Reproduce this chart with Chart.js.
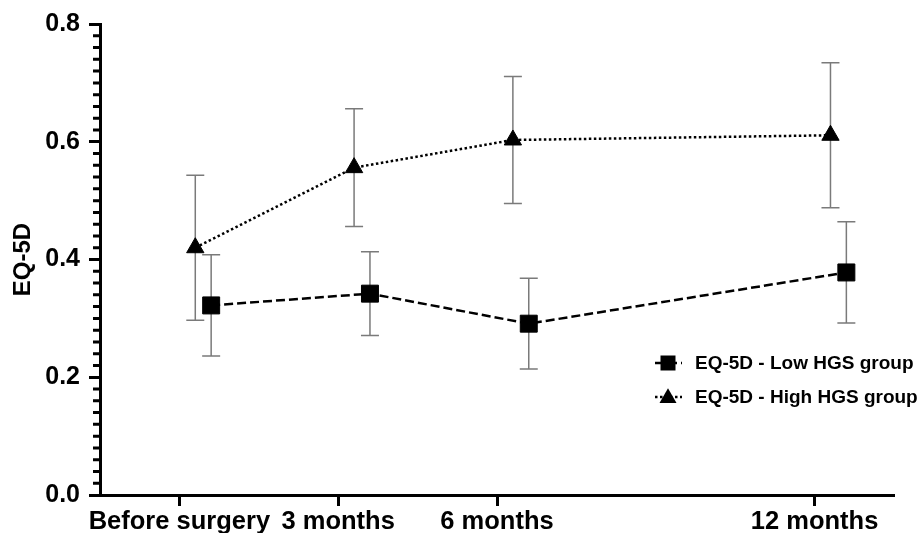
<!DOCTYPE html>
<html><head><meta charset="utf-8">
<script src="https://cdn.jsdelivr.net/npm/chart.js@4.4.1/dist/chart.umd.min.js"></script>
<style>html,body{margin:0;background:#fff}#wrap{width:922px;height:533px;position:relative}</style>
</head><body><div id="wrap"><canvas id="c"></canvas></div>
<script>
'use strict';
const months=[0,3,6,12];
const tickLabels=['Before surgery','3 months','6 months','12 months'];
const lowMean=[0.322,0.342,0.291,0.378];
const lowSd=[0.086,0.071,0.077,0.086];
const highMean=[0.420,0.556,0.603,0.611];
const highSd=[0.123,0.100,0.108,0.123];
const yTicks=[0,0.2,0.4,0.6,0.8];
const FONT='"Liberation Sans", Arial, sans-serif';
// points are nudged right of their tick so the two groups' bars don't sit on top of each other
const LOW_SHIFT=0.6, HIGH_SHIFT=0.3;
const LEG_X=655, LEG_Y=363, LEG_GAP=34;

// error bars (mean ± sd) under the markers
const errBars={id:'errBars',beforeDatasetsDraw(ch){
  const c=ch.ctx, xs=ch.scales.x, ys=ch.scales.y;
  c.save(); c.strokeStyle='#7a7a7a'; c.lineWidth=1.5;
  ch.data.datasets.forEach(ds=>{
    ds.data.forEach((p,i)=>{
      const x=xs.getPixelForValue(p.x), t=ys.getPixelForValue(p.y+ds.sd[i]), b=ys.getPixelForValue(p.y-ds.sd[i]);
      c.beginPath(); c.moveTo(x,t); c.lineTo(x,b);
      c.moveTo(x-9,t); c.lineTo(x+9,t); c.moveTo(x-9,b); c.lineTo(x+9,b); c.stroke();
    });
  });
  c.restore();
}};

// short minor ticks every 0.02 on the y axis (chart.js only does one tick length)
const minorTicks={id:'minorTicks',afterDraw(ch){
  const c=ch.ctx, ys=ch.scales.y, a=ch.chartArea;
  c.save(); c.strokeStyle='#000'; c.lineWidth=3; c.beginPath();
  for(let k=1;k<40;k++){ if(k%10===0) continue; const y=ys.getPixelForValue(k*0.02); c.moveTo(a.left-7,y); c.lineTo(a.left,y); }
  c.stroke(); c.restore();
}};

function marker(c,style,x,y,s){
  c.beginPath();
  if(style==='rect') c.rect(x-s/2,y-s/2,s,s);
  else { const h=s*0.87; c.moveTo(x,y-h*0.6); c.lineTo(x+s/2,y+h*0.4); c.lineTo(x-s/2,y+h*0.4); c.closePath(); }
  c.fill();
}
const legendBox={id:'legendBox',afterDraw(ch){
  const c=ch.ctx;
  c.save();
  ch.data.datasets.forEach((ds,i)=>{
    const y=LEG_Y+i*LEG_GAP;
    c.strokeStyle='#000'; c.lineWidth=2.5; c.setLineDash(ds.borderDash);
    c.beginPath(); c.moveTo(LEG_X,y); c.lineTo(LEG_X+27,y); c.stroke(); c.setLineDash([]);
    c.fillStyle='#000'; marker(c,ds.pointStyle,LEG_X+13,y,ds.pointStyle==='rect'?15:17);
    c.font='bold 19px '+FONT; c.textBaseline='middle'; c.textAlign='left';
    c.fillText(ds.label,LEG_X+40,y+1);
  });
  c.restore();
}};

new Chart(document.getElementById('c'),{
  type:'line',
  data:{datasets:[
    {label:'EQ-5D - Low HGS group',data:months.map((m,i)=>({x:m+LOW_SHIFT,y:lowMean[i]})),sd:lowSd,
     borderColor:'#000',borderWidth:2.5,borderDash:[9,4],tension:0,
     pointStyle:'rect',pointRadius:12,pointBackgroundColor:'#000',pointBorderColor:'#000',pointBorderWidth:1},
    {label:'EQ-5D - High HGS group',data:months.map((m,i)=>({x:m+HIGH_SHIFT,y:highMean[i]})),sd:highSd,
     borderColor:'#000',borderWidth:2.5,borderDash:[2.5,2.5],tension:0,
     pointStyle:'triangle',pointRadius:10,pointBackgroundColor:'#000',pointBorderColor:'#000',pointBorderWidth:1}
  ]},
  options:{responsive:true,maintainAspectRatio:false,animation:false,
    layout:{padding:{top:24,right:28,left:0,bottom:0}},
    plugins:{legend:{display:false},tooltip:{enabled:false}},
    scales:{
      x:{type:'linear',min:-1.5,max:13.5,
        afterBuildTicks:s=>{s.ticks=months.map(v=>({value:v}));},
        afterFit:s=>{s.height=38;},
        ticks:{callback:v=>tickLabels[months.indexOf(v)],autoSkip:false,maxRotation:0,color:'#000',font:{family:FONT,size:25.5,weight:'bold'},padding:1},
        grid:{drawOnChartArea:false,tickLength:11,tickWidth:3,tickColor:'#000'},
        border:{color:'#000',width:3}},
      y:{min:0,max:0.8,
        afterBuildTicks:s=>{s.ticks=yTicks.map(v=>({value:v}));},
        afterFit:s=>{s.width=100;},
        ticks:{callback:v=>v.toFixed(1),color:'#000',font:{family:FONT,size:25,weight:'bold'},padding:9},
        grid:{drawOnChartArea:false,tickLength:11,tickWidth:3,tickColor:'#000'},
        border:{color:'#000',width:3},
        title:{display:true,text:'EQ-5D',color:'#000',font:{family:FONT,size:24,weight:'bold'},padding:{top:9,bottom:0}}}
    }},
  plugins:[errBars,minorTicks,legendBox]
});
</script></body></html>
